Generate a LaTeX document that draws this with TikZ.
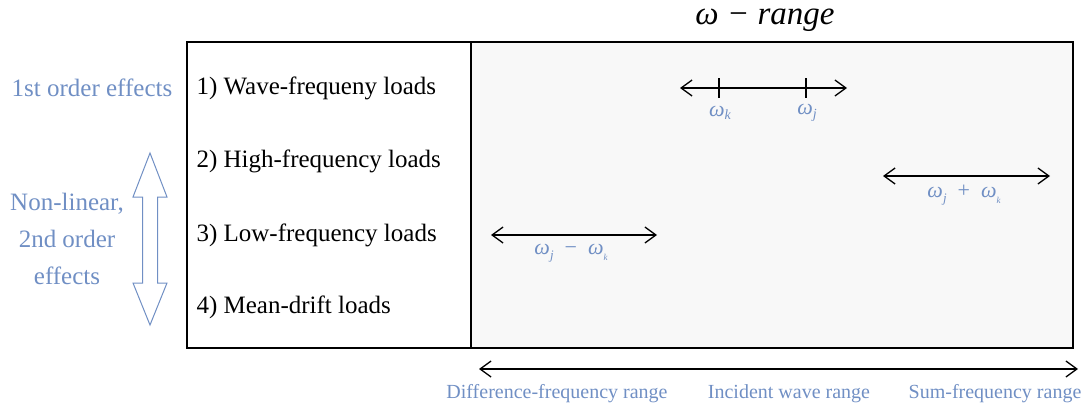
\documentclass[tikz,border=0pt]{standalone}
\usepackage{fontspec}
\setmainfont{Liberation Serif}
\usetikzlibrary{arrows.meta}
\definecolor{lblue}{RGB}{112,143,196}
\definecolor{panel}{RGB}{248,248,248}
\newcommand\omg{\textit{ω}}
\newcommand\subs[2]{\raisebox{#1}{\fontsize{#2}{#2}\selectfont\itshape}}
\begin{document}
\begin{tikzpicture}[x=1pt,y=-1pt,
  rowlbl/.style={anchor=west,font=\fontsize{25}{29}\selectfont},
  bluelbl/.style={text=lblue,font=\fontsize{25}{29}\selectfont},
  rangelbl/.style={text=lblue,font=\fontsize{20}{24}\selectfont},
  omlbl/.style={text=lblue,font=\fontsize{22}{26}\selectfont},
  dbl/.style={line width=1.3pt,{Straight Barb[length=11,width=16]}-{Straight Barb[length=11,width=16]}}]
\useasboundingbox (0,0) rectangle (1086,409);
% main box
\fill[panel] (471,42) rectangle (1073,348);
\draw[line width=1.4pt] (187,42) rectangle (1073,348);
\draw[line width=1.4pt] (471,42) -- (471,348);
% title
\node[inner sep=0pt] (title) at (765,20) {\fontsize{33}{36}\selectfont\itshape ω − range};
% row labels
\node[rowlbl] (r1) at (193,88) {1) Wave-frequeny loads};
\node[rowlbl] (r2) at (193,161) {2) High-frequency loads};
\node[rowlbl] (r3) at (193,235) {3) Low-frequency loads};
\node[rowlbl] (r4) at (193,307) {4) Mean-drift loads};
% left labels
\node[bluelbl] (first) at (92,88) {1st order effects};
\node[bluelbl,align=center,font=\fontsize{25}{37}\selectfont] (nonlin) at (67,239) {Non-linear,\\2nd order\\effects};
% open double arrow
\draw[lblue,line width=1pt,fill=white] (150,153) -- (167,197) -- (157.5,197) -- (157.5,283) -- (167,283) -- (150,325) -- (133,283) -- (142.5,283) -- (142.5,197) -- (133,197) -- cycle;
% arrow 1
\coordinate (a1l) at (680,88);
\coordinate (a1r) at (847,88);
\draw[dbl] (a1l) -- (a1r);
\coordinate (tk) at (719,88);
\coordinate (tj) at (806,88);
\draw[line width=1.3pt] ([yshift=-10]tk) -- ([yshift=10]tk);
\draw[line width=1.3pt] ([yshift=-10]tj) -- ([yshift=10]tj);
\node[omlbl] (wk) at (720,113) {\omg\raisebox{-3pt}{\fontsize{14}{14}\selectfont\itshape k}};
\node[omlbl] (wj) at (807,113) {\omg\raisebox{-4pt}{\fontsize{14}{14}\selectfont\itshape j}};
% arrow 2
\coordinate (a2l) at (883,176);
\coordinate (a2r) at (1050,176);
\draw[dbl] (a2l) -- (a2r);
\node[omlbl] (sum) at (964,195) {\omg\raisebox{-5pt}{\fontsize{13}{13}\selectfont\itshape j}\ \ +\ \ \omg\raisebox{-6pt}{\fontsize{9}{9}\selectfont\itshape k}};
% arrow 3
\coordinate (a3l) at (491,235);
\coordinate (a3r) at (657,235);
\draw[dbl] (a3l) -- (a3r);
\node[omlbl] (diff) at (571,253) {\omg\raisebox{-5pt}{\fontsize{13}{13}\selectfont\itshape j}\ \ −\ \ \omg\raisebox{-6pt}{\fontsize{9}{9}\selectfont\itshape k}};
% bottom arrow
\coordinate (bl) at (479,369);
\coordinate (br) at (1078,369);
\draw[dbl] (bl) -- (br);
\node[rangelbl] (dr) at (557,394) {Difference-frequency range};
\node[rangelbl] (ir) at (789,394) {Incident wave range};
\node[rangelbl] (sr) at (995,394) {Sum-frequency range};
\end{tikzpicture}
\end{document}
